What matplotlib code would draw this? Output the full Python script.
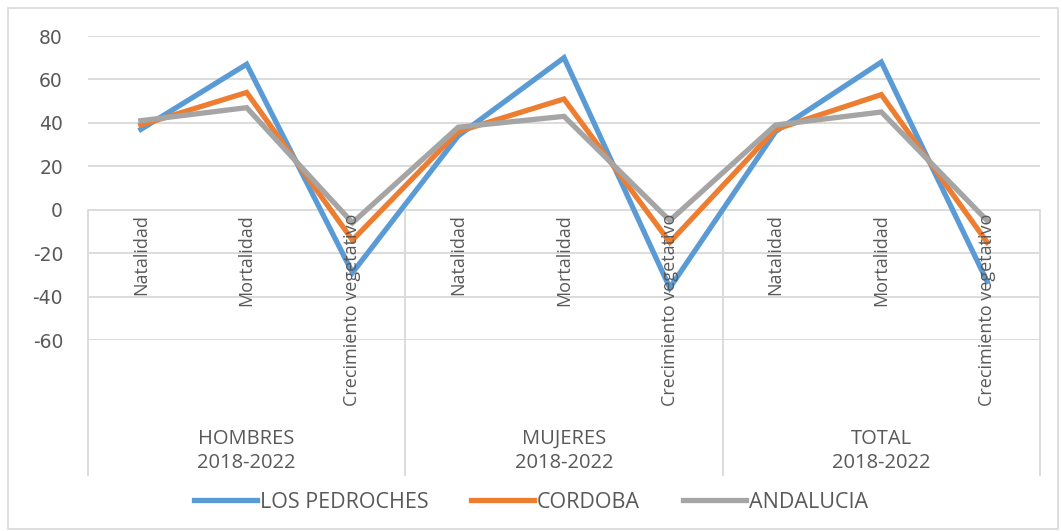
import matplotlib
matplotlib.use("Agg")
import matplotlib.pyplot as plt
import matplotlib.transforms as mtransforms
from matplotlib.patches import Rectangle

# data
groups = ["HOMBRES\n2018-2022", "MUJERES\n2018-2022", "TOTAL\n2018-2022"]
indicators = ["Natalidad", "Mortalidad", "Crecimiento vegetativo"]
pedroches = [37, 67, -29, 34, 70, -36, 36, 68, -33]
cordoba = [39, 54, -14, 36, 51, -15, 37, 53, -15]
andalucia = [41, 47, -6, 38, 43, -5, 39, 45, -5]
series_names = ["LOS PEDROCHES", "CORDOBA", "ANDALUCIA"]
colors = ["#5b9bd5", "#ed7d31", "#a5a5a5"]
yticks = [-60, -40, -20, 0, 20, 40, 60, 80]

W, H = 1062, 531
fig = plt.figure(figsize=(W / 100, H / 100), dpi=100)

# plot area in pixels: x 88..1040, y 36 (80) .. 340 (-60)
x0, x1, ytop, ybot = 88, 1040, 36, 340
ax = fig.add_axes([x0 / W, 1 - ybot / H, (x1 - x0) / W, (ybot - ytop) / H])

n = len(pedroches)
xs = list(range(n))
for vals, name, c in zip([pedroches, cordoba, andalucia], series_names, colors):
    ax.plot(xs, vals, color=c, lw=3.8, label=name, solid_joinstyle="miter")

ax.set_xlim(-0.5, n - 0.5)
ax.set_ylim(-60, 80)
ax.set_yticks(yticks)
ax.set_yticklabels([str(v) for v in yticks], fontsize=13.5, color="#595959",
                   family=["DejaVu Sans"])
ax.tick_params(axis="y", length=0, pad=18)
ax.set_xticks([])
for s in ax.spines.values():
    s.set_visible(False)
ax.grid(axis="y", color="#d9d9d9", lw=1.3)
ax.set_axisbelow(True)

# vertical separators from the 0 line down through the category area
bottom_px = 475
ymin_ax = -(bottom_px - ybot) / (ybot - ytop)
y0_ax = 60 / 140
for xv in [-0.5, 2.5, 5.5, n - 0.5]:
    ax.axvline(xv, ymin=ymin_ax, ymax=y0_ax, color="#d9d9d9", lw=1.3, clip_on=False, zorder=0)

trans = mtransforms.blended_transform_factory(ax.transData, ax.transAxes)
lab_top = (ybot - 214) / (ybot - ytop)
for i in xs:
    ax.text(i, lab_top, indicators[i % 3], rotation=90, ha="center", va="top",
            fontsize=13, color="#595959", transform=trans, clip_on=False,
            family=["Open Sans", "DejaVu Sans"])

grp_y = -(451 - ybot) / (ybot - ytop)
for g, name in enumerate(groups):
    ax.text(3 * g + 1, grp_y, name, ha="center", va="center", fontsize=14.5,
            color="#595959", transform=trans, clip_on=False, linespacing=1.25,
            family=["Open Sans", "DejaVu Sans"])

fig.legend(loc="center", bbox_to_anchor=(0.5, 1 - 502 / H), ncol=3, frameon=False,
           handlelength=2.9, columnspacing=2.0, handletextpad=0.15,
           prop={"family": ["Open Sans", "DejaVu Sans"], "size": 15.5},
           labelcolor="#595959")

fig.patches.append(Rectangle((8 / W, 2 / H), (W - 12) / W, (H - 10) / H, transform=fig.transFigure,
                             fill=False, edgecolor="#d9d9d9", lw=1.2))

fig.savefig("out.png", dpi=100)
